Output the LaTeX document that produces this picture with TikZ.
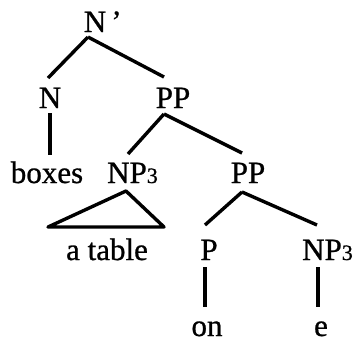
\documentclass[tikz,border=0pt]{standalone}
\usepackage{fontspec}
\setmainfont[FakeBold=0.8]{Liberation Serif}
\newcommand{\idx}[1]{{\fontsize{22}{26}\selectfont #1}}
\tikzset{
  cat/.style={anchor=base, inner sep=0pt, font=\fontsize{31}{37}\selectfont},
  branch/.style={line width=3.4pt, line cap=butt, line join=round}
}
\begin{document}
\begin{tikzpicture}[x=1pt, y=-1pt]
  \useasboundingbox (0,0) rectangle (358,341);

  % labels
  \node[cat] (nbar) at (95,32) {N\rlap{\,'}};
  \node[cat] (n) at (50,108) {N};
  \node[cat] (pp1) at (173,108) {PP};
  \node[cat] (boxes) at (47,183) {boxes};
  \node[cat] (np1) at (127,183) {NP\rlap{\idx{3}}};
  \node[cat] (pp2) at (248,183) {PP};
  \node[cat] (atable) at (107,260) {a table};
  \node[cat] (p) at (209,260) {P};
  \node[cat] (np2) at (322,260) {NP\rlap{\idx{3}}};
  \node[cat] (on) at (207,336) {on};
  \node[cat] (e) at (321,336) {e};

  % branches
  \draw[branch] ([xshift=-7pt,yshift=-5pt]nbar.base) -- ([xshift=-2pt,yshift=30pt]n.base);
  \draw[branch] ([xshift=-7pt,yshift=-5pt]nbar.base) -- ([xshift=-9pt,yshift=31pt]pp1.base);
  \draw[branch] ([yshift=-5pt]n.base) -- ([xshift=3pt,yshift=28pt]boxes.base);
  \draw[branch] ([xshift=-9pt,yshift=-6pt]pp1.base) -- ([xshift=1pt,yshift=29pt]np1.base);
  \draw[branch] ([xshift=-9pt,yshift=-6pt]pp1.base) -- ([xshift=-6pt,yshift=30pt]pp2.base);
  \draw[branch] ([xshift=-1pt,yshift=-8pt]np1.base) -- ([xshift=-59pt,yshift=33pt]atable.base)
    -- ([xshift=57pt,yshift=33pt]atable.base) -- cycle;
  \draw[branch] ([xshift=-6pt,yshift=-9pt]pp2.base) -- ([xshift=-4pt,yshift=35pt]p.base);
  \draw[branch] ([xshift=-6pt,yshift=-9pt]pp2.base) -- ([xshift=-5pt,yshift=35pt]np2.base);
  \draw[branch] ([xshift=-4pt,yshift=-7pt]p.base) -- ([xshift=-2pt,yshift=29pt]on.base);
  \draw[branch] ([xshift=-4pt,yshift=-7pt]np2.base) -- ([xshift=-3pt,yshift=29pt]e.base);
\end{tikzpicture}
\end{document}
